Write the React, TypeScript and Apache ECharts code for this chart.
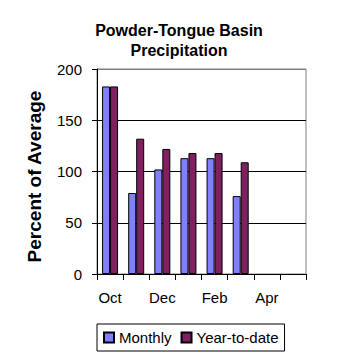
import React, { useEffect, useRef } from "react";
import * as echarts from "echarts";

const months = ["Oct", "Nov", "Dec", "Jan", "Feb", "Mar", "Apr", "May"];
const monthly = [183, 79, 102, 113, 113, 76, null, null];
const yearToDate = [183, 132, 122, 118, 118, 109, null, null];
const titleText = "Powder-Tongue Basin\nPrecipitation";
const yName = "Percent of Average";

const FONT = "'Liberation Sans', Arial, sans-serif";

export default function App() {
  const ref = useRef<HTMLDivElement>(null);
  useEffect(() => {
    if (!ref.current) return;
    const chart = echarts.init(ref.current, null, { renderer: "svg" });
    chart.setOption({
      animation: false,
      backgroundColor: "#ffffff",
      textStyle: { fontFamily: FONT },
      title: {
        text: titleText,
        left: 179,
        textAlign: "center",
        top: 20,
        padding: 0,
        textStyle: {
          fontFamily: FONT,
          fontSize: 16,
          fontWeight: "bold",
          color: "#000",
          lineHeight: 20,
        },
      },
      grid: {
        left: 97,
        top: 69,
        right: 52,
        bottom: 84,
        show: true,
        borderColor: "#808080",
        borderWidth: 1,
        backgroundColor: "transparent",
      },
      legend: {
        left: 97,
        top: 324,
        padding: [6, 6],
        itemWidth: 10,
        itemHeight: 10,
        itemGap: 9,
        borderColor: "#000",
        borderWidth: 1,
        icon: "rect",
        textStyle: { fontFamily: FONT, fontSize: 15, color: "#000", lineHeight: 15 },
        data: ["Monthly", "Year-to-date"],
      },
      xAxis: {
        type: "category",
        data: months,
        boundaryGap: true,
        axisLine: { lineStyle: { color: "#000", width: 1 } },
        axisTick: { show: true, interval: 0, length: 6, lineStyle: { color: "#000" } },
        axisLabel: {
          interval: 1,
          margin: 16,
          fontFamily: FONT,
          fontSize: 15,
          color: "#000",
        },
        splitLine: { show: false },
      },
      yAxis: {
        type: "value",
        min: 0,
        max: 200,
        interval: 50,
        name: yName,
        nameLocation: "middle",
        nameGap: 53,
        nameRotate: 90,
        nameTextStyle: {
          fontFamily: FONT,
          fontSize: 19,
          fontWeight: "bold",
          color: "#000",
          padding: [0, 10, 0, 0],
        },
        axisLine: { show: true, lineStyle: { color: "#000", width: 1 } },
        axisTick: { show: true, length: 5, lineStyle: { color: "#000" } },
        axisLabel: {
          margin: 15,
          fontFamily: FONT,
          fontSize: 15,
          color: "#000",
          padding: [6, 0, 0, 0],
        },
        splitLine: {
          show: true,
          lineStyle: { color: ["#000", "#000", "#000", "#000", "#808080"], width: 1 },
        },
      },
      series: [
        {
          name: "Monthly",
          type: "bar",
          data: monthly,
          barWidth: 8,
          barGap: "0%",
          itemStyle: { color: "#8080FF", borderColor: "#000", borderWidth: 1 },
        },
        {
          name: "Year-to-date",
          type: "bar",
          data: yearToDate,
          barWidth: 8,
          barGap: "0%",
          itemStyle: { color: "#802060", borderColor: "#000", borderWidth: 1 },
        },
      ],
    });
    return () => chart.dispose();
  }, []);
  return (
    <div
      ref={ref}
      style={{ position: "fixed", left: 0, top: 0, width: 358, height: 358 }}
    />
  );
}
